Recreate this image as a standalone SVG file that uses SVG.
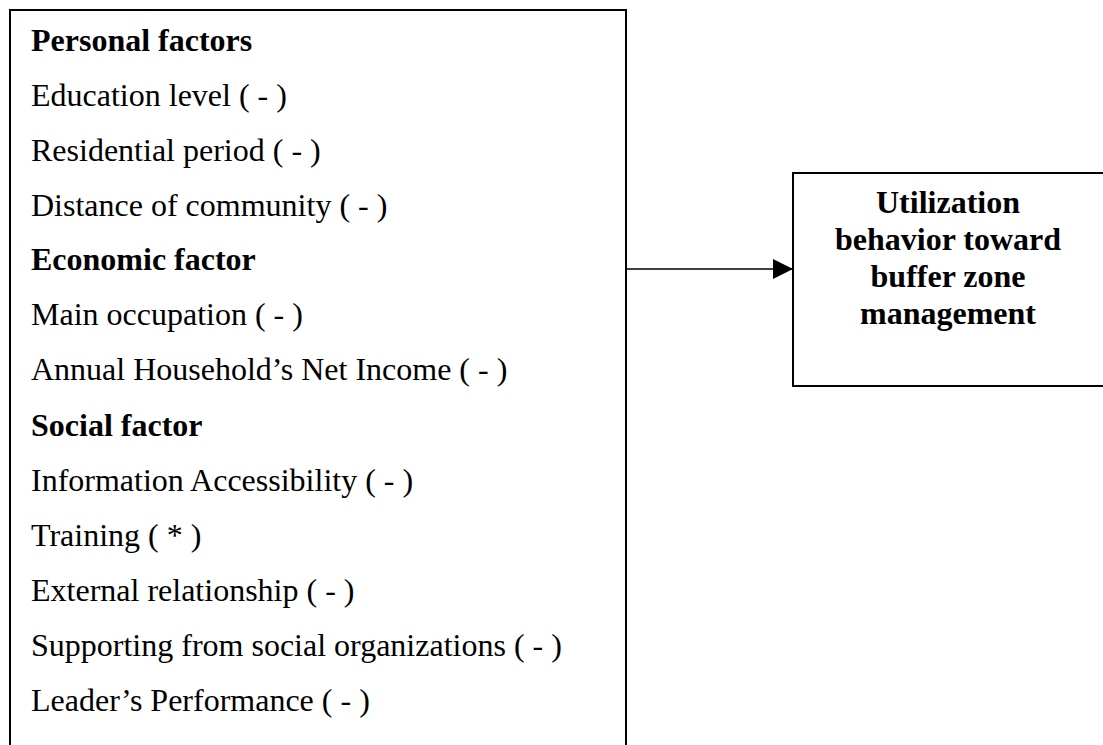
<svg xmlns="http://www.w3.org/2000/svg" width="1103" height="745" viewBox="0 0 1103 745">
<defs>
<style>
.box{fill:#fff;stroke:#000;stroke-width:2}
.t{font-family:"Liberation Serif","Times New Roman",serif;font-size:32px;fill:#000}
.b{font-weight:bold}
.c{font-family:"Liberation Serif","Times New Roman",serif;font-size:32px;font-weight:bold;fill:#000;text-anchor:middle}
.edge{stroke:#000;stroke-width:1.5;fill:none}
</style>
<marker id="arr" markerWidth="20" markerHeight="20" refX="20" refY="10" orient="auto" markerUnits="userSpaceOnUse">
<path d="M0,0 L20,10 L0,20 Z" fill="#000"/>
</marker>
</defs>
<rect width="1103" height="745" fill="#fff"/>
<g id="factors">
<rect class="box" x="10" y="10" width="616" height="760"/>
<text class="t b" x="31" y="51">Personal factors</text>
<text class="t" x="31" y="106">Education level ( - )</text>
<text class="t" x="31" y="161">Residential period ( - )</text>
<text class="t" x="31" y="216">Distance of community ( - )</text>
<text class="t b" x="31" y="270">Economic factor</text>
<text class="t" x="31" y="325">Main occupation ( - )</text>
<text class="t" x="31" y="380">Annual Household’s Net Income ( - )</text>
<text class="t b" x="31" y="436">Social factor</text>
<text class="t" x="31" y="491">Information Accessibility ( - )</text>
<text class="t" x="31" y="546">Training ( * )</text>
<text class="t" x="31" y="601">External relationship ( - )</text>
<text class="t" x="31" y="656">Supporting from social organizations ( - )</text>
<text class="t" x="31" y="711">Leader’s Performance ( - )</text>
</g>
<g id="connectors">
<line class="edge" x1="626" y1="269" x2="793" y2="269" marker-end="url(#arr)"/>
</g>
<g id="behavior">
<rect class="box" x="793" y="173" width="320" height="213"/>
<text class="c" x="948" y="213">Utilization</text>
<text class="c" x="948" y="250">behavior toward</text>
<text class="c" x="948" y="287">buffer zone</text>
<text class="c" x="948" y="324">management</text>
</g>
</svg>
